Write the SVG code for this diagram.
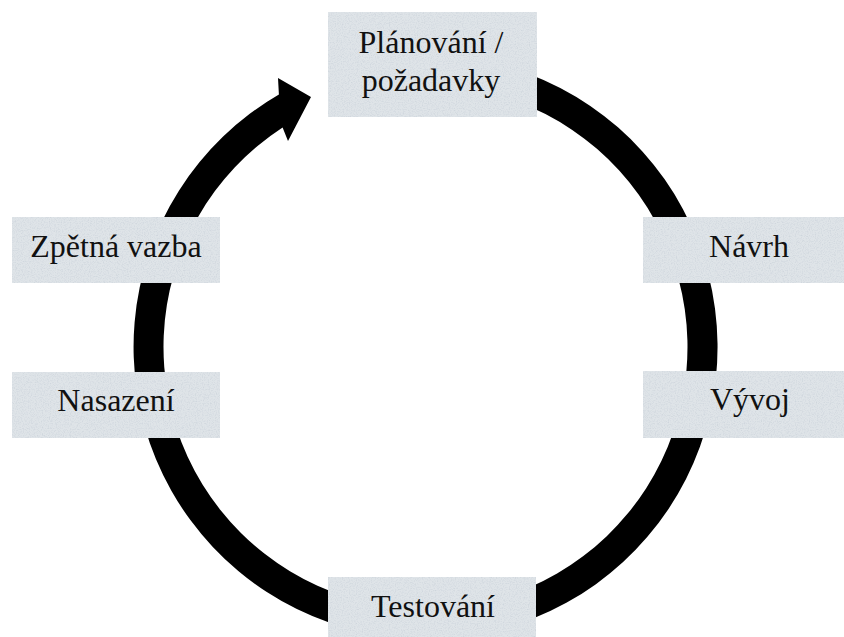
<svg xmlns="http://www.w3.org/2000/svg" width="844" height="637" viewBox="0 0 844 637">
  <defs>
    <filter id="tex" x="0" y="0" width="100%" height="100%">
      <feTurbulence type="fractalNoise" baseFrequency="0.85" numOctaves="2" seed="7" result="n"/>
      <feColorMatrix in="n" type="matrix" values="0 0 0 0 0.62  0 0 0 0 0.67  0 0 0 0 0.72  0 0 0 -2.2 1.25" result="spots"/>
      <feComposite in="spots" in2="SourceGraphic" operator="in" result="s"/>
      <feMerge><feMergeNode in="SourceGraphic"/><feMergeNode in="s"/></feMerge>
    </filter>
  </defs>
  <style>
    .box { fill: #dfe4e8; filter: url(#tex); }
    .lbl { font-family: "Liberation Serif", "Times New Roman", serif; font-size: 32px; fill: #111; text-anchor: middle; }
    .ring { fill: #000; }
  </style>
  <rect width="844" height="637" fill="#fff"/>
  <g id="connectors">
    <path class="ring" d="M 425.5 55 A 292 292 0 1 1 278.9 94.5 L 278 78 L 311 97 L 288 141 L 282.6 127.4 A 262 262 0 1 0 425.5 85 Z"/>
  </g>
  <g id="node-planovani">
    <rect class="box" x="328" y="12" width="209" height="105"/>
    <text class="lbl" x="431" y="53">Plánování /</text>
    <text class="lbl" x="431" y="91">požadavky</text>
  </g>
  <g id="node-navrh">
    <rect class="box" x="643" y="217" width="201" height="66"/>
    <text class="lbl" x="749" y="257">Návrh</text>
  </g>
  <g id="node-vyvoj">
    <rect class="box" x="643" y="371" width="201" height="67"/>
    <text class="lbl" x="750" y="410">Vývoj</text>
  </g>
  <g id="node-testovani">
    <rect class="box" x="328" y="577" width="208" height="60"/>
    <text class="lbl" x="433" y="617">Testování</text>
  </g>
  <g id="node-nasazeni">
    <rect class="box" x="12" y="372" width="208" height="66"/>
    <text class="lbl" x="116" y="411">Nasazení</text>
  </g>
  <g id="node-zpetna-vazba">
    <rect class="box" x="12" y="217" width="208" height="66"/>
    <text class="lbl" x="116" y="257">Zpětná vazba</text>
  </g>
</svg>
